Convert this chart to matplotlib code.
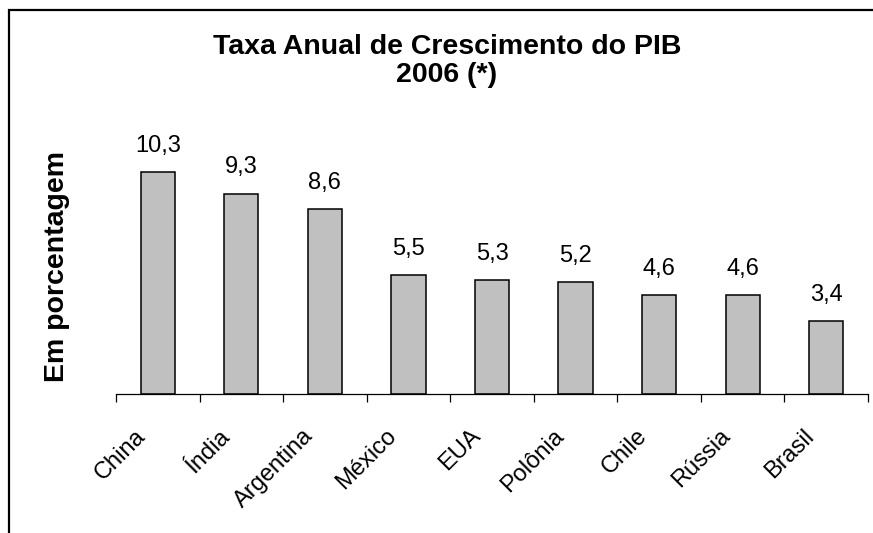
import matplotlib
matplotlib.use("Agg")
import matplotlib.pyplot as plt
from matplotlib.patches import Rectangle
from matplotlib.transforms import ScaledTranslation

categories = ["China", "Índia", "Argentina", "México", "EUA", "Polônia", "Chile", "Rússia", "Brasil"]
values = [10.3, 9.3, 8.6, 5.5, 5.3, 5.2, 4.6, 4.6, 3.4]
value_labels = ["10,3", "9,3", "8,6", "5,5", "5,3", "5,2", "4,6", "4,6", "3,4"]
title_line1 = "Taxa Anual de Crescimento do PIB"
title_line2 = "2006 (*)"
ylabel = "Em porcentagem"

W, H = 873, 533
DPI = 100
plt.rcParams['font.family'] = ['Liberation Sans', 'DejaVu Sans']

fig = plt.figure(figsize=(W / DPI, H / DPI), dpi=DPI)
fig.patch.set_facecolor('white')

# outer frame (left and top visible)
fig.patches.append(Rectangle((9 / W, -0.5), 2.0, (1 - 10 / H) + 0.5,
                             transform=fig.transFigure, fill=False,
                             edgecolor='black', linewidth=1.6))

left, right = 116 / W, 868 / W
bottom, top = 1 - 394 / H, 1 - 130 / H
ax = fig.add_axes([left, bottom, right - left, top - bottom])
ax.set_facecolor('none')

x = list(range(len(categories)))
bars = ax.bar(x, values, width=0.41, color='#C0C0C0', edgecolor='black', linewidth=1.1, zorder=2)

ax.set_xlim(-0.5, len(categories) - 0.5)
ax.set_ylim(0, 12.25)

for s in ['top', 'right', 'left']:
    ax.spines[s].set_visible(False)
ax.spines['bottom'].set_linewidth(0.9)
ax.set_yticks([])

ax.set_xticks(x)
ax.set_xticklabels(categories, rotation=45, ha='right', va='top',
                   rotation_mode='anchor', fontsize=17)
ax.tick_params(axis='x', which='major', length=0, pad=0)
ax.set_xticks([i - 0.5 for i in range(len(categories) + 1)], minor=True)
ax.tick_params(axis='x', which='minor', length=6, width=0.9, direction='out')

offset = ScaledTranslation(-23 / DPI, -31 / DPI, fig.dpi_scale_trans)
for lab in ax.get_xticklabels():
    lab.set_transform(lab.get_transform() + offset)

for xi, v, lab in zip(x, values, value_labels):
    ax.annotate(lab, (xi, v), xytext=(0, 14.5), textcoords='offset points',
                ha='center', va='baseline', fontsize=17)

fig.text(447 / W, 1 - 53.5 / H, title_line1, ha='center', va='baseline',
         fontsize=20.5, fontweight='bold')
fig.text(447 / W, 1 - 82.5 / H, title_line2, ha='center', va='baseline',
         fontsize=20.5, fontweight='bold')

fig.text(57.5 / W, 1 - 267 / H, ylabel, rotation=90, ha='center', va='center',
         fontsize=20.5, fontweight='bold')

fig.savefig('out.png', dpi=DPI, facecolor='white')
